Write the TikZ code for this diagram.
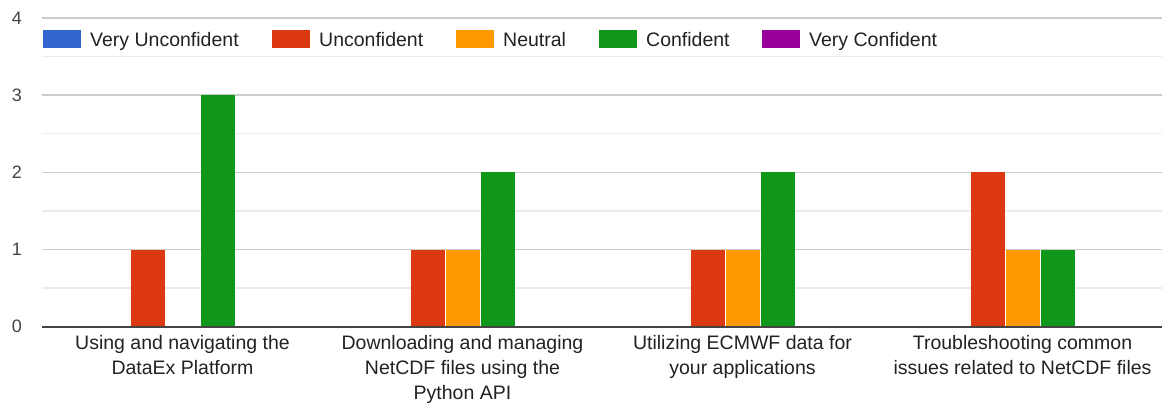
\documentclass[tikz,border=0pt]{standalone}
\usepackage{fontspec}
\setmainfont{Liberation Sans}
\definecolor{cBlue}{HTML}{3366CC}
\definecolor{cRed}{HTML}{DC3912}
\definecolor{cOrange}{HTML}{FF9900}
\definecolor{cGreen}{HTML}{109618}
\definecolor{cPurple}{HTML}{990099}
\definecolor{gridmajor}{HTML}{CCCCCC}
\definecolor{gridminor}{HTML}{EBEBEB}
\definecolor{txt}{HTML}{222222}
\definecolor{axtxt}{HTML}{444444}
\tikzset{
  minorgrid/.style={draw=gridminor, line width=1.3pt},
  majorgrid/.style={draw=gridmajor, line width=1.4pt},
  baseline0/.style={draw=axtxt, line width=1.6pt},
  bar/.style={draw=none},
  swatch/.style={draw=none, minimum width=38pt, minimum height=18pt, inner sep=0pt, anchor=north west},
  legtext/.style={anchor=base west, inner sep=0pt, text=txt, font=\fontsize{19.5}{23}\selectfont},
  ylab/.style={anchor=east, inner sep=0pt, text=axtxt, font=\fontsize{18}{22}\selectfont},
  catlab/.style={anchor=north, inner sep=0pt, align=center, text=txt, font=\fontsize{19.5}{25}\selectfont},
}
\begin{document}
\begin{tikzpicture}[x=1pt,y=-1pt]
\useasboundingbox[fill=white] (0,0) rectangle (1163,405);
\def\yz{326.7}
\def\u{77.2}
% minor gridlines
\foreach \v in {0.5,1.5,2.5,3.5}
  \draw[minorgrid] (42,{\yz-\u*\v}) -- (1162,{\yz-\u*\v});
% major gridlines
\foreach \v in {1,2,3,4}
  \draw[majorgrid] (42,{\yz-\u*\v}) -- (1162,{\yz-\u*\v});
% axis labels
\foreach \v in {0,1,2,3,4}
  \node[ylab] (y\v) at (22,{\yz-\u*\v}) {\v};
% bars: group g, slot k, value
\foreach \g/\k/\val/\col in {0/1/1/cRed, 0/3/3/cGreen,
    1/1/1/cRed, 1/2/1/cOrange, 1/3/2/cGreen,
    2/1/1/cRed, 2/2/1/cOrange, 2/3/2/cGreen,
    3/1/2/cRed, 3/2/1/cOrange, 3/3/1/cGreen}
  \fill[bar, fill=\col] ({182.5+280*\g+35*(\k-2)-17},\yz) rectangle ({182.5+280*\g+35*(\k-2)+17},{\yz-\u*\val});
% zero baseline
\draw[baseline0] (42,\yz) -- (1162,\yz);
% legend
\node[swatch, fill=cBlue] (s1) at (43,30) {};
\node[legtext] (l1) at (90,46.5) {Very Unconfident};
\node[swatch, fill=cRed] (s2) at (272,30) {};
\node[legtext] (l2) at (319,46.5) {Unconfident};
\node[swatch, fill=cOrange] (s3) at (456,30) {};
\node[legtext] (l3) at (503,46.5) {Neutral};
\node[swatch, fill=cGreen] (s4) at (599,30) {};
\node[legtext] (l4) at (646,46.5) {Confident};
\node[swatch, fill=cPurple] (s5) at (762,30) {};
\node[legtext] (l5) at (809,46.5) {Very Confident};
% category labels
\node[catlab] (c1) at (182.5,335) {Using and navigating the\\DataEx Platform};
\node[catlab] (c2) at (462.5,335) {Downloading and managing\\NetCDF files using the\\Python API};
\node[catlab] (c3) at (742.5,335) {Utilizing ECMWF data for\\your applications};
\node[catlab] (c4) at (1022.5,335) {Troubleshooting common\\issues related to NetCDF files};
\end{tikzpicture}
\end{document}
